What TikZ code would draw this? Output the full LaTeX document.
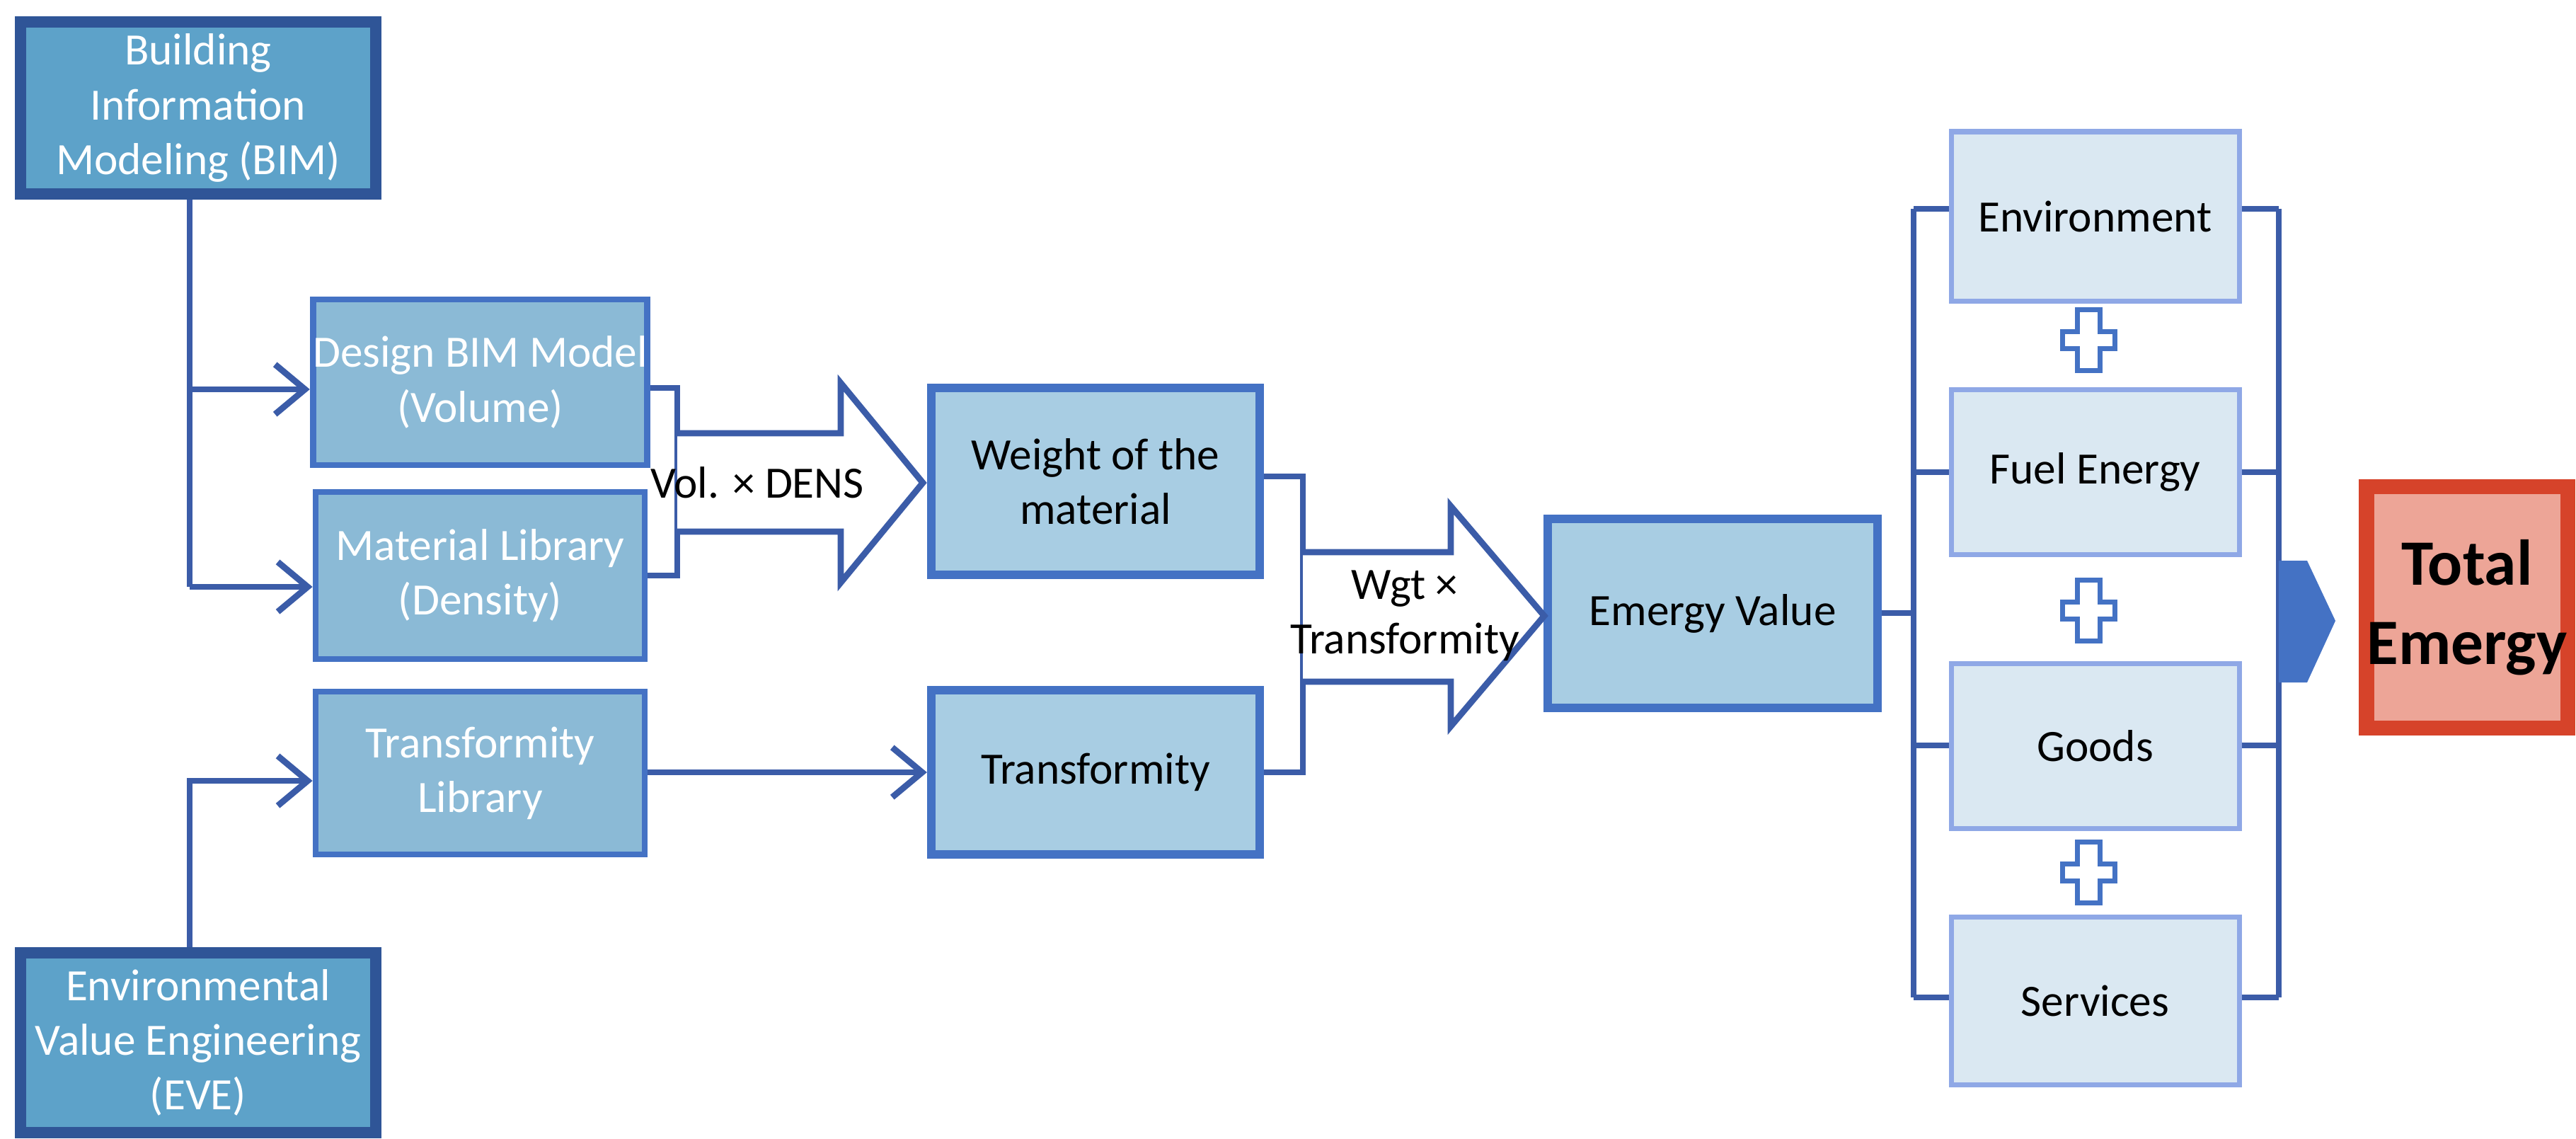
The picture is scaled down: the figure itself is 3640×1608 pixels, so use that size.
\documentclass[tikz,border=0pt]{standalone}
\usepackage{fontspec}
\setmainfont{Carlito}
\usetikzlibrary{arrows.meta}
\definecolor{ln}{HTML}{3B5CA8}
\definecolor{dk}{HTML}{2F5597}
\definecolor{bimf}{HTML}{5DA2C9}
\definecolor{midf}{HTML}{8BBAD6}
\definecolor{wf}{HTML}{A8CDE3}
\definecolor{bb}{HTML}{4472C4}
\definecolor{lf}{HTML}{DAE8F2}
\definecolor{lb}{HTML}{8FA8E6}
\definecolor{tf}{HTML}{EDA597}
\definecolor{tb}{HTML}{D6432A}
\begin{document}
\begin{tikzpicture}[x=0.01cm,y=-0.01cm,
  box/.style={draw,rectangle,inner sep=0pt,align=center,font=\fontsize{18}{22}\selectfont},
  top/.style={box,fill=bimf,draw=dk,line width=4.5pt,text=white},
  mid/.style={box,fill=midf,draw=bb,line width=2.5pt,text=white},
  wt/.style={box,fill=wf,draw=bb,line width=3.5pt,text=black},
  lt/.style={box,fill=lf,draw=lb,line width=2pt,text=black},
  con/.style={draw=ln,line width=2.5pt},
  arr/.style={con,-{Straight Barb[length=12pt,width=20pt,line width=2.5pt]}},
  big/.style={draw=ln,line width=2.5pt,fill=white}]
\useasboundingbox (0,0) rectangle (3640,1608);
\newcommand{\bx}[5]{\node[#1,minimum width={(#4-#2)*0.01cm},minimum height={(#5-#3)*0.01cm}] at ({(#2+#4)/2},{(#3+#5)/2})}
\bx{top}{29}{31}{531}{274} (bim) {Building\\Information\\Modeling (BIM)};
\bx{top}{29}{1346}{531}{1600} (eve) {Environmental\\Value Engineering\\(EVE)};
\bx{mid}{446}{423}{911}{657} (des) {Design BIM Model\\(Volume)};
\bx{mid}{446}{695}{911}{931} (mat) {Material Library\\(Density)};
\bx{mid}{446}{977}{911}{1207} (tl) {Transformity\\Library};
\bx{wt}{1316}{548}{1780}{812} (wgt) {Weight of the\\material};
\bx{wt}{1316}{975}{1780}{1207} (tr) {Transformity};
\bx{wt}{2187}{733}{2653}{1000} (ev) {Emergy Value};
\bx{lt}{2757}{186}{3164}{425} (env) {Environment};
\bx{lt}{2757}{550}{3164}{783} (fuel) {Fuel Energy};
\bx{lt}{2757}{937}{3164}{1170} (goods) {Goods};
\bx{lt}{2757}{1295}{3164}{1532} (serv) {Services};
\node[box,fill=tf,draw=tb,line width=6pt,minimum width=2.84cm,minimum height=3.4cm,font=\bfseries\fontsize{26}{32}\selectfont] (tot) at (3486,858) {Total\\Emergy};
% BIM connectors
\coordinate (b1) at (268,550); \coordinate (b2) at (268,829);
\draw[con] (bim.south -| b1) -- (b2);
\draw[arr] (b1) -- (des.west |- b1);
\draw[arr] (b2) -- (mat.west |- b2);
% EVE
\coordinate (e1) at (268,1103);
\draw[arr] (eve.north -| e1) -- (e1) -- (tl.west |- e1);
\draw[arr] (tl.east |- 0,1091) -- (tr.west |- 0,1091);
% bracket 1 + big arrow 1
\draw[con] (des.east |- 0,548) -- (957,548) -- (957,813) -- (mat.east |- 0,813);
\draw[big] (957,612) -- (1188,612) -- (1188,541) -- (1304,682) -- (1188,823) -- (1188,751) -- (957,751);
\node[font=\fontsize{18}{22}\selectfont] (l1) at (1070,682) {Vol. × DENS};
% bracket 2 + big arrow 2
\draw[con] (wgt.east |- 0,673) -- (1841,673) -- (1841,1091) -- (tr.east |- 0,1091);
\draw[big] (1841,780) -- (2050,780) -- (2050,715) -- (2182,870) -- (2050,1026) -- (2050,963) -- (1841,963);
\node[font=\fontsize{18}{22}\selectfont,align=center] (l2) at (1985,870) {Wgt ×\\Transformity};
% right tree
\draw[con] (ev.east |- 0,866) -- (2704,866);
\draw[con] (2704,295) -- (2704,1409);
\draw[con] (3220,295) -- (3220,1409);
\foreach \n/\y in {env/295,fuel/667,goods/1053,serv/1409}{
  \draw[con] (2704,\y) -- (\n.west |- 0,\y);
  \draw[con] (\n.east |- 0,\y) -- (3220,\y);}
\foreach \y in {480,862,1232}{
  \draw[draw=bb,line width=2pt,fill=white] (2935,\y-43) -- (2967,\y-43) -- (2967,\y-12) -- (2988,\y-12) -- (2988,\y+12) -- (2967,\y+12) -- (2967,\y+43) -- (2935,\y+43) -- (2935,\y+12) -- (2914,\y+12) -- (2914,\y-12) -- (2935,\y-12) -- cycle;}
\fill[bb] (3220,792) -- (3260,792) -- (3300,877) -- (3260,964) -- (3220,964) -- cycle;
\end{tikzpicture}
\end{document}
